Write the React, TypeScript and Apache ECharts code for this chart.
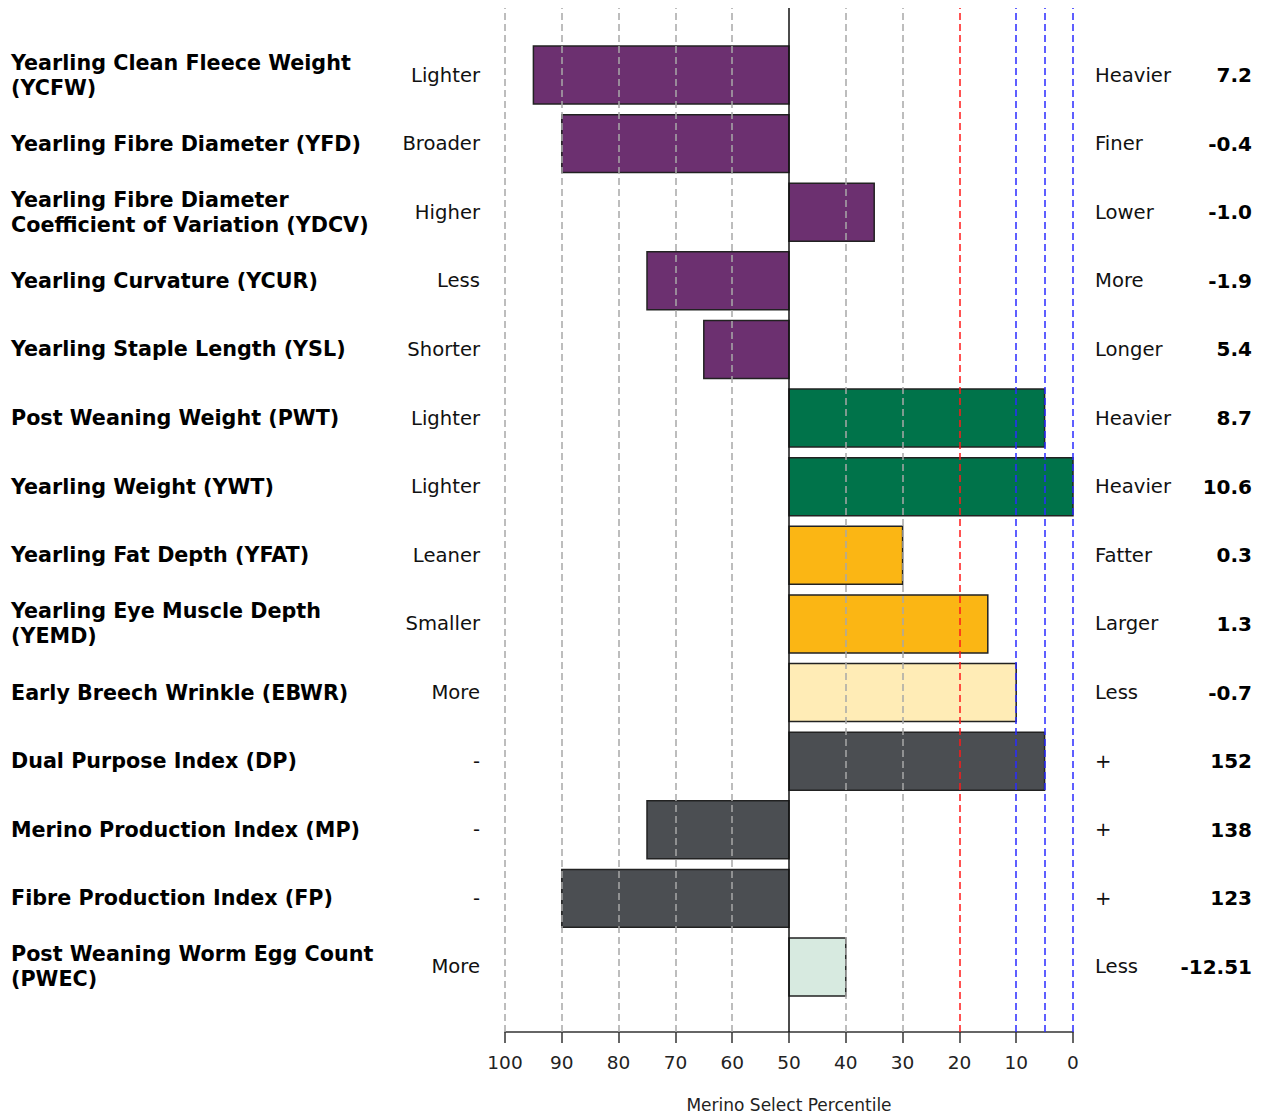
import React, { useEffect, useRef } from "react";
import * as echarts from "echarts";

const traits = [
  "Yearling Clean Fleece Weight\n(YCFW)",
  "Yearling Fibre Diameter (YFD)",
  "Yearling Fibre Diameter\nCoefficient of Variation (YDCV)",
  "Yearling Curvature (YCUR)",
  "Yearling Staple Length (YSL)",
  "Post Weaning Weight (PWT)",
  "Yearling Weight (YWT)",
  "Yearling Fat Depth (YFAT)",
  "Yearling Eye Muscle Depth\n(YEMD)",
  "Early Breech Wrinkle (EBWR)",
  "Dual Purpose Index (DP)",
  "Merino Production Index (MP)",
  "Fibre Production Index (FP)",
  "Post Weaning Worm Egg Count\n(PWEC)",
];
const lowLabels = ["Lighter", "Broader", "Higher", "Less", "Shorter", "Lighter", "Lighter", "Leaner", "Smaller", "More", "-", "-", "-", "More"];
const highLabels = ["Heavier", "Finer", "Lower", "More", "Longer", "Heavier", "Heavier", "Fatter", "Larger", "Less", "+", "+", "+", "Less"];
const ebvValues = ["7.2", "-0.4", "-1.0", "-1.9", "5.4", "8.7", "10.6", "0.3", "1.3", "-0.7", "152", "138", "123", "-12.51"];
const percentiles = [95, 90, 35, 75, 65, 5, 0, 30, 15, 10, 5, 75, 90, 40];
const barColors = [
  "#6C3070", "#6C3070", "#6C3070", "#6C3070", "#6C3070",
  "#00734A", "#00734A",
  "#FBB614", "#FBB614",
  "#FFECB6",
  "#4B4E52", "#4B4E52", "#4B4E52",
  "#D7EAE0",
];
const grayLines = [100, 90, 80, 70, 60, 40, 30];
const redLines = [20];
const blueLines = [10, 5, 0];
const centreLine = 50;

const FONT = "DejaVu Sans";

export default function App() {
  const ref = useRef<HTMLDivElement>(null);
  useEffect(() => {
    if (!ref.current) return;
    const chart = echarts.init(ref.current, undefined, { renderer: "svg" });
    const gridLeft = 505;
    const gridWidth = 568;
    const dash = { type: [7, 4] as any, width: 1.5 };
    const mkLines = [
      ...grayLines.map((v) => ({ xAxis: v, lineStyle: { color: "#A8A8A8", ...dash } })),
      ...redLines.map((v) => ({ xAxis: v, lineStyle: { color: "#FF1A1A", ...dash } })),
      ...blueLines.map((v) => ({ xAxis: v, lineStyle: { color: "#2B2BFF", ...dash } })),
      { xAxis: centreLine, lineStyle: { color: "#111111", type: "solid", width: 1.5 } },
    ];
    const catAxisBase = {
      type: "category" as const,
      gridIndex: 1,
      inverse: true,
      data: traits,
      axisLine: { show: false },
      axisTick: { show: false },
      splitLine: { show: false },
    };
    chart.setOption({
      animation: false,
      grid: [
        { left: gridLeft, width: gridWidth, top: 8, height: 1024, outerBoundsMode: "none", containLabel: false },
        { left: gridLeft, width: gridWidth, top: 40.7, height: 960.6, outerBoundsMode: "none", containLabel: false },
      ],
      xAxis: [
        {
          type: "value",
          gridIndex: 0,
          min: 0,
          max: 100,
          interval: 10,
          inverse: true,
          position: "bottom",
          axisLine: { show: true, onZero: false, lineStyle: { color: "#333", width: 1.5 } },
          axisTick: { show: true, length: 11, inside: false, lineStyle: { color: "#333", width: 1.5 } },
          axisLabel: { fontFamily: FONT, fontSize: 18.5, color: "#222", margin: 21 },
          splitLine: { show: false },
          name: "Merino Select Percentile",
          nameLocation: "middle",
          nameGap: 64,
          nameTextStyle: { fontFamily: FONT, fontSize: 17, color: "#222" },
        },
        {
          type: "value",
          gridIndex: 1,
          min: 0,
          max: 100,
          inverse: true,
          show: false,
        },
      ],
      yAxis: [
        { type: "value", gridIndex: 0, min: 0, max: 1, show: false },
        {
          ...catAxisBase,
          position: "left",
          axisLabel: {
            align: "left",
            margin: 494,
            fontFamily: FONT,
            fontWeight: "bold",
            fontSize: 20.7,
            lineHeight: 25,
            color: "#000",
            padding: [4, 0, 0, 0],
          },
        },
        {
          ...catAxisBase,
          position: "left",
          data: lowLabels,
          axisLabel: { align: "right", margin: 25, fontFamily: FONT, fontSize: 19.6, color: "#111", padding: [2, 0, 0, 0] },
        },
        {
          ...catAxisBase,
          position: "right",
          data: highLabels,
          axisLabel: { align: "left", margin: 22, fontFamily: FONT, fontSize: 19.6, color: "#111", padding: [2, 0, 0, 0] },
        },
        {
          ...catAxisBase,
          position: "right",
          data: ebvValues,
          axisLabel: { align: "right", margin: 179, fontFamily: FONT, fontWeight: "bold", fontSize: 20, color: "#000", padding: [2, 0, 0, 0] },
        },
      ],
      series: [
        {
          type: "custom",
          xAxisIndex: 1,
          yAxisIndex: 1,
          z: 2,
          encode: { x: 0, y: 1 },
          data: percentiles.map((p, i) => ({ value: [p, i], itemStyle: { color: barColors[i] } })),
          renderItem: (params: any, api: any) => {
            const idx = api.value(1);
            const v = api.value(0);
            const p0 = api.coord([centreLine, idx]);
            const p1 = api.coord([v, idx]);
            const h = api.size([0, 1])[1] * 0.845;
            const x = Math.min(p0[0], p1[0]);
            return {
              type: "rect",
              shape: { x, y: p0[1] - h / 2, width: Math.abs(p1[0] - p0[0]), height: h },
              style: { fill: api.visual("color"), stroke: "#222", lineWidth: 1.5 },
            };
          },
        },
        {
          type: "scatter",
          xAxisIndex: 0,
          yAxisIndex: 0,
          z: 5,
          symbolSize: 0,
          silent: true,
          data: [[centreLine, 0.5]],
          markLine: {
            silent: true,
            symbol: "none",
            label: { show: false },
            z: 5,
            data: mkLines,
          },
        },
      ],
    });
    return () => chart.dispose();
  }, []);
  return (
    <div
      ref={ref}
      style={{ position: "fixed", left: 0, top: 0, width: 1266, height: 1114, background: "#fff" }}
    />
  );
}
